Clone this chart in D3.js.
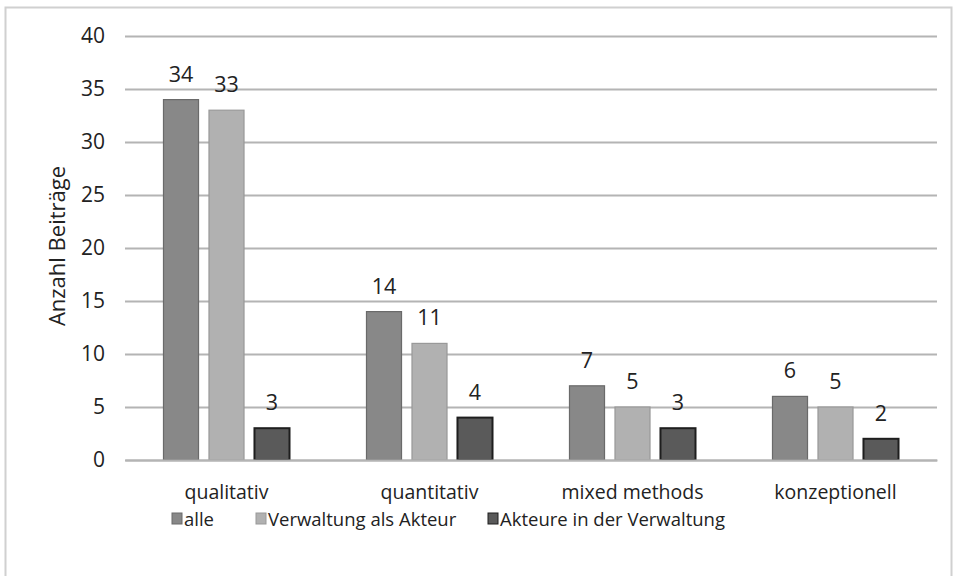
<!DOCTYPE html>
<html><head><meta charset="utf-8">
<script src="https://cdn.jsdelivr.net/npm/d3@7"></script>
<style>body{margin:0;background:#fff}svg text{font-family:"Open Sans","Noto Sans",sans-serif;fill:#222}</style>
</head><body><svg id="c" width="961" height="576"></svg>
<script>
const categories = ["qualitativ","quantitativ","mixed methods","konzeptionell"];
const seriesNames = ["alle","Verwaltung als Akteur","Akteure in der Verwaltung"];
const alle = [34,14,7,6];
const verwaltung = [33,11,5,5];
const akteure = [3,4,3,2];
const yTicks = [0,5,10,15,20,25,30,35,40];
const colors = ["#888888","#b1b1b1","#5a5a5a"];
const strokes = ["#6a6a6a","#999999","#1e1e1e"];
const seriesVals = [alle, verwaltung, akteure];

const svg = d3.select("#c");
svg.append("rect").attr("x",5.5).attr("y",7.5).attr("width",946).attr("height",580)
  .attr("fill","none").attr("stroke","#d0d0d0").attr("stroke-width",2);

const L=125,R=937,T=36,B=460;
const x = d3.scaleBand().domain(categories).range([L,R]);
const xs = d3.scaleBand().domain(d3.range(3)).range([0,x.bandwidth()]).paddingInner(0.23).paddingOuter(0.846);
const y = d3.scaleLinear().domain([0,40]).range([B,T]);

const yAxis = svg.append("g").attr("transform",`translate(${L},0)`)
  .call(d3.axisLeft(y).tickValues(yTicks).tickSize(-(R-L)).tickPadding(20));
yAxis.select(".domain").remove();
yAxis.selectAll("line").attr("stroke","#b4b4b4").attr("stroke-width",2);
yAxis.selectAll("text").style("font-size","21px").style("fill","#222");

const g = svg.append("g");
seriesVals.forEach((vals,si)=>{
  categories.forEach((c,ci)=>{
    const bx = x(c)+xs(si), v=vals[ci];
    g.append("rect").attr("x",bx).attr("y",y(v)).attr("width",xs.bandwidth()).attr("height",B-y(v))
      .attr("fill",colors[si]).attr("stroke",strokes[si]).attr("stroke-width",si===2?2:1.2);
    g.append("text").attr("x",bx+xs.bandwidth()/2).attr("y",y(v)-18).attr("text-anchor","middle")
      .style("font-size","21.5px").text(v);
  });
});

const xAxis = svg.append("g").attr("transform",`translate(0,${B})`)
  .call(d3.axisBottom(x).tickSize(0).tickPadding(25));
xAxis.select(".domain").attr("stroke","#b4b4b4").attr("stroke-width",2);
xAxis.selectAll("text").style("font-size","19.5px").style("fill","#222");

svg.append("text").attr("transform","translate(65,246) rotate(-90)").attr("text-anchor","middle")
  .style("font-size","22px").text("Anzahl Beiträge");

const legX=[172,256,488];
seriesNames.forEach((n,i)=>{
  svg.append("rect").attr("x",legX[i]).attr("y",513).attr("width",10).attr("height",11)
    .attr("fill",colors[i]).attr("stroke",strokes[i]);
  svg.append("text").attr("x",legX[i]+12).attr("y",526).style("font-size","18.5px").text(n);
});
</script></body></html>
